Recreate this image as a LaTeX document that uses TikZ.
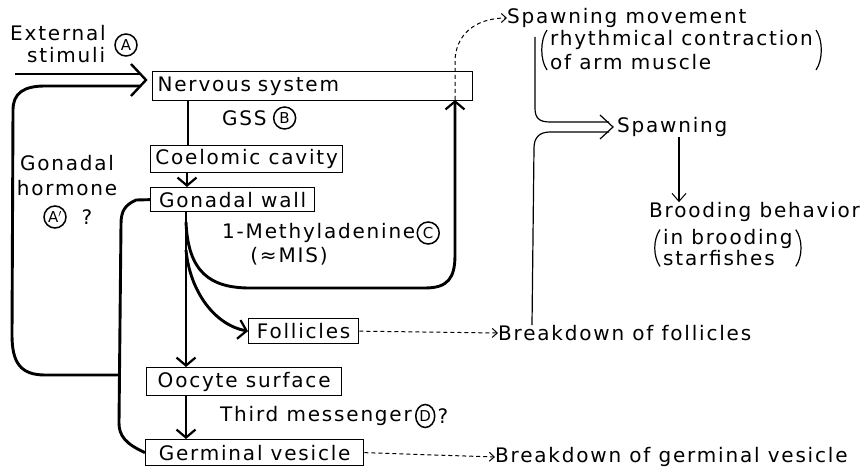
\documentclass[tikz,border=0pt]{standalone}
\usepackage{fontspec}
\setmainfont{DejaVu Sans}[LetterSpace=9]
\usetikzlibrary{arrows.meta,shapes.geometric}
\begin{document}
\begin{tikzpicture}[x=1pt,y=-1pt,
  font=\fontsize{20}{25}\selectfont,
  box/.style={draw,line width=1.3pt,inner sep=0pt,anchor=north west,align=center},
  lbl/.style={inner sep=0pt,anchor=west},
  circ/.style={draw,circle,line width=1.5pt,inner sep=0pt,minimum size=22pt,font=\fontsize{15}{15}\selectfont},
  heavy/.style={line width=2.9pt},
  big/.style={heavy,-{Straight Barb[length=8pt,width=19pt,line width=2.2pt]}},
  thin/.style={line width=1.2pt},
  dsh/.style={line width=1pt,dash pattern=on 4pt off 3pt,-{Straight Barb[length=5pt,width=9pt,line width=1pt]}},
]
\useasboundingbox (0,0) rectangle (865,468);

% boxes
\node[box,minimum width=320pt,minimum height=29pt,text width=310pt,inner xsep=5pt,align=left] (ns) at (152,71) {Nervous system};
\node[box,minimum width=192pt,minimum height=27pt] (cc) at (150,145) {Coelomic cavity};
\node[box,minimum width=164pt,minimum height=24pt] (gw) at (150,187) {Gonadal wall};
\node[box,minimum width=110pt,minimum height=25pt] (fol) at (248,318) {Follicles};
\node[box,minimum width=195pt,minimum height=28pt] (oo) at (146,367) {Oocyte surface};
\node[box,minimum width=218pt,minimum height=26pt] (gv) at (145,439) {Germinal vesicle};

% labels
\node[lbl] (ext1) at (10,33) {External};
\node[lbl] (ext2) at (27,55) {stimuli};
\node[circ] (cA) at (126,45) {A};
\node[lbl] (gss) at (222,118) {GSS};
\node[circ,anchor=west] (cB) at ([xshift=6pt]gss.east) {B};
\node[align=center] (gh) at (67,176) {Gonadal\\hormone};
\node[circ] (cA2) at (55,217) {A$'$};
\node (q1) at (87,217) {?};
\node[lbl] (me) at (222,233) {1-Methyladenine};
\node[circ,anchor=west] (cC) at ([xshift=1pt]me.east) {C};
\node (mis) at (289,256) {(≈MIS)};
\node[lbl] (tm) at (220,416) {Third messenger};
\node[circ,shape=ellipse,minimum width=19pt,minimum height=23pt,anchor=west] (cD) at ([xshift=3pt]tm.east) {D};
\node[lbl,anchor=west] (q2) at ([xshift=2pt]cD.east) {?};
\node[lbl] (sm) at (507,18) {Spawning movement};
\node[lbl,align=left,font=\fontsize{20}{24}\selectfont] (rc) at (550,50) {rhythmical contraction\\of arm muscle};
\node[lbl] (sp) at (617,127) {Spawning};
\node[lbl] (bb) at (649,212) {Brooding behavior};
\node[lbl,align=left,font=\fontsize{20}{21}\selectfont] (ib) at (663,248) {in brooding\\starfishes};
\node[lbl] (bf) at (498,333) {Breakdown of follicles};
\node[lbl] (bg) at (495,457) {Breakdown of germinal vesicle};

% parentheses
\draw[thin] ([xshift=-3pt]rc.north west) .. controls ([xshift=-10pt,yshift=-10pt]rc.north west) and ([xshift=-10pt,yshift=10pt]rc.south west) .. ([xshift=-3pt]rc.south west);
\draw[thin] ([xshift=3pt]rc.north east) .. controls ([xshift=10pt,yshift=-10pt]rc.north east) and ([xshift=10pt,yshift=10pt]rc.south east) .. ([xshift=3pt]rc.south east);
\draw[thin] ([xshift=-3pt]ib.north west) .. controls ([xshift=-10pt,yshift=-10pt]ib.north west) and ([xshift=-10pt,yshift=10pt]ib.south west) .. ([xshift=-3pt]ib.south west);
\draw[thin] ([xshift=3pt]ib.north east) .. controls ([xshift=10pt,yshift=-10pt]ib.north east) and ([xshift=10pt,yshift=10pt]ib.south east) .. ([xshift=3pt]ib.south east);

% coordinates
\coordinate (nsin) at (146,80);
\coordinate (hj) at (120,375);
\coordinate (mb) at (186,222);
\coordinate (fb) at (186,250);
\coordinate (nsb) at (455,100);
\coordinate (spin) at (613,127);

% external stimuli and hormone into nervous system
\draw[line width=2.2pt] (15,74) -- (140,74);
\draw[heavy] (hj) -- (45,375) .. controls (20,375) and (12,362) .. (12,335) -- (13,110) .. controls (13,93) and (24,86) .. (45,86) -- (140,86);
\draw[line width=2.4pt] (131,64) -- (nsin) -- (131,96);
% hormone bracket
\draw[heavy] (gw.west) -- (136,200) .. controls (125,205) and (121,211) .. (121,224) -- (119,423) .. controls (119,436) and (126,444) .. (gv.west);

% main chain
\draw[heavy] (ns.south -| 188,0) -- (cc.north -| 188,0);
\draw[big] (cc.south -| 187,0) -- (gw.north -| 187,0);
\draw[big] (gw.south -| 186,0) -- (oo.north -| 186,0);
\draw[big] (oo.south -| 186,0) -- (gv.north -| 186,0);
\draw[big] (fb) .. controls (190,292) and (215,325) .. (fol.west);
\draw[big] (mb) .. controls (188,272) and (210,288) .. (250,288) -- (425,288) .. controls (448,288) and (455,278) .. (455,255) -- (nsb);

% dashed to spawning movement
\draw[dsh] (nsb) -- (455,62) .. controls (455,35) and (475,18) .. (sm.west);

% spawning collector
\draw[thin] (535,37) -- (535,108) .. controls (535,118) and (539,122) .. (550,122) -- (609,122);
\draw[thin] (bf.north -| 532,0) -- (534,148) .. controls (534,138) and (539,132) .. (550,132) -- (609,132);
\draw[thin] (600,115) -- (spin) -- (600,139);
\draw[thin,-{Straight Barb[length=8pt,width=14pt,line width=1pt]}] (sp.south -| 679,0) -- (bb.north -| 679,0);

% dashed breakdowns
\draw[dsh] (fol.east) -- (bf.west);
\draw[dsh] (gv.east) -- (bg.west);
\end{tikzpicture}
\end{document}
